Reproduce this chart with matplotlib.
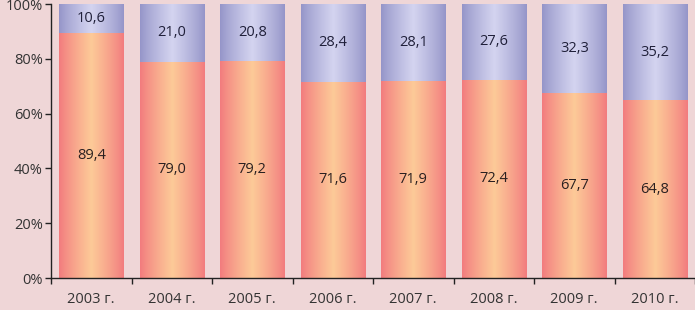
import matplotlib.pyplot as plt
import numpy as np
from matplotlib.colors import LinearSegmentedColormap

years = ["2003 г.", "2004 г.", "2005 г.", "2006 г.", "2007 г.", "2008 г.", "2009 г.", "2010 г."]
lower = [89.4, 79.0, 79.2, 71.6, 71.9, 72.4, 67.7, 64.8]
upper = [10.6, 21.0, 20.8, 28.4, 28.1, 27.6, 32.3, 35.2]

plt.rcParams['font.family'] = ['Open Sans', 'DejaVu Sans']
bg = '#efd6d7'

fig = plt.figure(figsize=(6.95, 3.1), dpi=100, facecolor=bg)
ax = fig.add_axes([0.0734, 0.103, 0.9266, 0.884])
ax.set_facecolor(bg)

x = np.arange(len(years))
w = 0.8

# horizontal gradients: dark at the edges, light in the middle
red_cmap = LinearSegmentedColormap.from_list('r', ['#f27a7e', '#fdca98'])
blue_cmap = LinearSegmentedColormap.from_list('b', ['#9494c8', '#d4d4f0'])
t = np.linspace(0, 1, 256)
grad = (1 - np.abs(2 * t - 1)).reshape(1, -1) ** 0.85

bars_lo = ax.bar(x, lower, w, color='none', edgecolor='none')
bars_hi = ax.bar(x, upper, w, bottom=lower, color='none', edgecolor='none')

for bars, cmap in ((bars_lo, red_cmap), (bars_hi, blue_cmap)):
    for b in bars:
        bx, by = b.get_x(), b.get_y()
        im = ax.imshow(grad, cmap=cmap, aspect='auto', interpolation='bicubic', vmin=0, vmax=1,
                       extent=(bx, bx + b.get_width(), by, by + b.get_height()), zorder=2)
        im.set_clip_path(b)

for xi, lo, hi in zip(x, lower, upper):
    ax.text(xi, lo / 2, f"{lo:.1f}".replace('.', ','), ha='center', va='center',
            fontsize=10.5, color='#2a2020', zorder=3)
    ax.text(xi, lo + hi / 2, f"{hi:.1f}".replace('.', ','), ha='center', va='center',
            fontsize=10.5, color='#20203a', zorder=3)

ax.set_xlim(-0.5, 7.5)
ax.set_ylim(0, 100)
ax.set_yticks([0, 20, 40, 60, 80, 100])
ax.set_yticklabels([f"{v}%" for v in range(0, 101, 20)], fontsize=10.5, color='#333')
ax.set_xticks(x)
ax.set_xticklabels(years, fontsize=10.5, color='#333')
ax.tick_params(axis='x', which='major', length=0, pad=10)
ax.set_xticks(np.arange(-0.5, 8, 1), minor=True)
ax.tick_params(axis='x', which='minor', length=4, width=1, color='#222', direction='out')
ax.tick_params(axis='y', length=4, width=1, color='#222', direction='out', pad=2)

for s in ('top', 'right'):
    ax.spines[s].set_visible(False)
for s in ('left', 'bottom'):
    ax.spines[s].set_color('#222')
    ax.spines[s].set_linewidth(1)

fig.savefig('out.png', dpi=100, facecolor=bg)
